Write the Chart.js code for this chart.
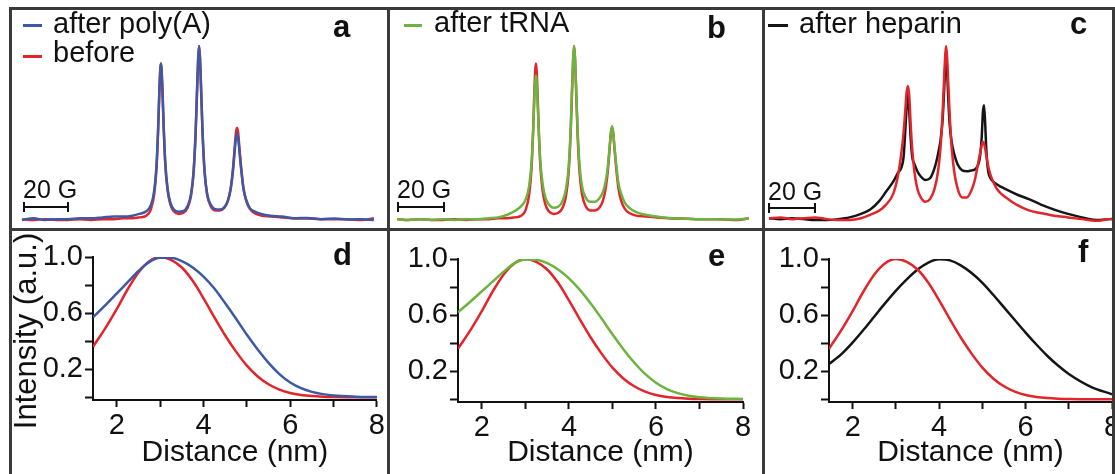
<!DOCTYPE html>
<html>
<head>
<meta charset="utf-8">
<script src="https://cdn.jsdelivr.net/npm/chart.js@4.4.0/dist/chart.umd.min.js"></script>
<style>
  html, body { margin: 0; padding: 0; background: #fff; overflow: hidden; }
  body { width: 1115px; height: 474px; position: relative; font-family: "Liberation Sans", Arial, sans-serif; color: #111; }
  .rule { position: absolute; background: #3a3a3a; z-index: 5; }
  canvas { position: absolute; z-index: 1; }
  .txt { position: absolute; line-height: 1; white-space: nowrap; z-index: 4; }
  .leg { font-size: 29px; }
  .tag { font-size: 31px; font-weight: bold; }
  .sb { font-size: 25px; }
  .key { position: absolute; height: 3px; z-index: 4; }
  .bar { position: absolute; height: 10px; border-left: 2px solid #111; border-right: 2px solid #111; box-sizing: border-box; z-index: 4; }
  .bar::after { content: ''; position: absolute; left: 0; right: 0; top: 4px; height: 2px; background: #111; }
  .ytitle { position: absolute; left: 25px; top: 331px; font-size: 31px; line-height: 1; white-space: nowrap;
            transform: translate(-50%, -50%) rotate(-90deg); z-index: 4; }
</style>
</head>
<body>

<!-- frame -->
<div class="rule" style="left:9px;top:7px;width:1106px;height:3px"></div>
<div class="rule" style="left:9px;top:228px;width:1106px;height:3px"></div>
<div class="rule" style="left:9px;top:7px;width:3px;height:467px"></div>
<div class="rule" style="left:387px;top:7px;width:3px;height:467px"></div>
<div class="rule" style="left:762px;top:7px;width:3px;height:467px"></div>
<div class="rule" style="left:1112px;top:7px;width:3px;height:467px"></div>

<canvas id="specA" width="375" height="218" style="left:12px;top:10px"></canvas>
<canvas id="specB" width="372" height="218" style="left:390px;top:10px"></canvas>
<canvas id="specC" width="347" height="218" style="left:765px;top:10px"></canvas>
<canvas id="distD" width="375" height="241" style="left:12px;top:233px"></canvas>
<canvas id="distE" width="372" height="241" style="left:390px;top:233px"></canvas>
<canvas id="distF" width="362" height="241" style="left:765px;top:233px"></canvas>

<!-- legends -->
<div class="key" style="left:23px;top:24px;width:19px;background:#3d59a6"></div>
<div class="txt leg" style="left:53px;top:9px">after poly(A)</div>
<div class="key" style="left:23px;top:55px;width:19px;background:#e3242b"></div>
<div class="txt leg" style="left:53px;top:38px">before</div>
<div class="key" style="left:404px;top:24px;width:18px;background:#6cb33f"></div>
<div class="txt leg" style="left:434px;top:8px">after tRNA</div>
<div class="key" style="left:768px;top:24px;width:20px;background:#151515"></div>
<div class="txt leg" style="left:799px;top:9px">after heparin</div>

<!-- panel letters -->
<div class="txt tag" style="left:333px;top:11px">a</div>
<div class="txt tag" style="left:707px;top:12px">b</div>
<div class="txt tag" style="left:1070px;top:8px">c</div>
<div class="txt tag" style="left:333px;top:239px">d</div>
<div class="txt tag" style="left:708px;top:240px">e</div>
<div class="txt tag" style="left:1078px;top:236px">f</div>

<!-- 20 G scale bars -->
<div class="txt sb" style="left:23px;top:177px">20 G</div>
<div class="bar" style="left:23px;top:202px;width:46px"></div>
<div class="txt sb" style="left:397px;top:177px">20 G</div>
<div class="bar" style="left:397px;top:202px;width:48px"></div>
<div class="txt sb" style="left:768px;top:179px">20 G</div>
<div class="bar" style="left:768px;top:203px;width:48px"></div>

<div class="ytitle">Intensity (a.u.)</div>

<script>
// EPR spectra, field offset in gauss (shared by all spectra)
const fieldG = [
  0, 5, 10, 15, 20, 25, 30, 35, 40, 44, 48,
  51, 54, 56, 57.5, 58.5, 59.2, 59.8, 60.4, 61.0, 61.6, 62.3,
  63.3, 64.5, 66, 68, 70, 72, 73.5, 74.6, 75.5, 76.2, 76.6,
  77, 77.4, 77.8, 78.5, 79.4, 80.5, 82, 84, 86, 88, 89.5,
  90.7, 91.7, 92.5, 93.0, 93.5, 94.0, 94.5, 95.3, 96.3, 97.5, 99,
  101, 104, 108, 113, 118, 124, 130, 136, 142, 148, 153
];

const specBefore = [
  0.005, 0.0, 0.005, 0.0, 0.0, 0.005, 0.0, 0.005, 0.005, 0.01, 0.01,
  0.015, 0.025, 0.06, 0.15, 0.30, 0.52, 0.77, 0.90, 0.77, 0.53, 0.32,
  0.17, 0.09, 0.05, 0.035, 0.04, 0.07, 0.14, 0.27, 0.50, 0.78, 0.93,
  1.0, 0.93, 0.78, 0.50, 0.27, 0.145, 0.08, 0.055, 0.055, 0.07, 0.11,
  0.18, 0.29, 0.42, 0.50, 0.53, 0.50, 0.42, 0.30, 0.18, 0.11, 0.065,
  0.04, 0.025, 0.02, 0.015, 0.01, 0.008, 0.005, 0.005, 0.003, 0.0, 0.01
];

const specPolyA = [
  0.0, 0.01, 0.0, 0.005, 0.005, 0.01, 0.01, 0.015, 0.02, 0.02, 0.025,
  0.035, 0.05, 0.085, 0.17, 0.32, 0.53, 0.77, 0.90, 0.77, 0.54, 0.33,
  0.18, 0.10, 0.06, 0.047, 0.05, 0.08, 0.15, 0.28, 0.51, 0.78, 0.93,
  1.0, 0.93, 0.78, 0.51, 0.28, 0.15, 0.09, 0.062, 0.06, 0.075, 0.11,
  0.175, 0.28, 0.40, 0.47, 0.50, 0.47, 0.40, 0.29, 0.18, 0.115, 0.07,
  0.05, 0.035, 0.025, 0.02, 0.01, 0.012, 0.005, 0.008, 0.003, 0.005, 0.0
];

const specTRNA = [
  0.005, 0.0, 0.005, 0.0, 0.005, 0.0, 0.005, 0.005, 0.01, 0.015, 0.03,
  0.05, 0.08, 0.12, 0.20, 0.33, 0.51, 0.72, 0.83, 0.72, 0.52, 0.34,
  0.21, 0.13, 0.09, 0.07, 0.075, 0.11, 0.18, 0.30, 0.52, 0.79, 0.93,
  1.0, 0.93, 0.79, 0.53, 0.31, 0.19, 0.13, 0.105, 0.105, 0.125, 0.16,
  0.22, 0.31, 0.43, 0.50, 0.54, 0.50, 0.43, 0.32, 0.21, 0.15, 0.10,
  0.07, 0.045, 0.03, 0.02, 0.012, 0.008, 0.005, 0.005, 0.003, 0.003, 0.01
];

const specBeforeC = [
  0.01, 0.015, 0.005, 0.01, 0.015, 0.005, 0.0, 0.0, 0.01, 0.03, 0.055,
  0.09, 0.15, 0.25, 0.38, 0.50, 0.62, 0.73, 0.77, 0.71, 0.55, 0.40,
  0.27, 0.18, 0.13, 0.105, 0.12, 0.18, 0.28, 0.42, 0.62, 0.83, 0.94,
  1.0, 0.94, 0.83, 0.62, 0.42, 0.28, 0.18, 0.13, 0.13, 0.17, 0.23,
  0.31, 0.38, 0.43, 0.45, 0.44, 0.41, 0.37, 0.31, 0.26, 0.22, 0.18,
  0.15, 0.12, 0.085, 0.055, 0.04, 0.025, 0.015, 0.005, -0.005, 0.005, 0.01
];

const specHeparin = [
  0.01, 0.005, 0.01, 0.005, 0.0, 0.0, 0.005, 0.015, 0.035, 0.06, 0.11,
  0.165, 0.22, 0.27, 0.30, 0.36, 0.50, 0.64, 0.74, 0.62, 0.47, 0.36,
  0.32, 0.28, 0.25, 0.23, 0.24, 0.30, 0.38, 0.46, 0.58, 0.76, 0.88,
  0.98, 0.88, 0.74, 0.56, 0.45, 0.38, 0.32, 0.285, 0.28, 0.285, 0.29,
  0.31, 0.36, 0.48, 0.62, 0.66, 0.55, 0.40, 0.28, 0.24, 0.22, 0.205,
  0.19, 0.17, 0.145, 0.12, 0.09, 0.06, 0.035, 0.015, 0.0, 0.005, 0.01
];

// distance distributions (nm)
const distNm = [1.45, 1.75, 2, 2.25, 2.5, 2.75, 3, 3.25, 3.5, 3.75, 4, 4.25, 4.5,
                4.75, 5, 5.25, 5.5, 5.75, 6, 6.25, 6.5, 6.75, 7, 7.5, 8];
const distBefore = [0.36, 0.50, 0.63, 0.77, 0.89, 0.97, 1.0, 0.98, 0.925, 0.83, 0.705, 0.57, 0.44,
                    0.325, 0.225, 0.148, 0.092, 0.054, 0.03, 0.016, 0.008, 0.004, 0.002, 0.0, 0.0];
const distPolyA = [0.57, 0.66, 0.74, 0.82, 0.90, 0.965, 0.995, 0.995, 0.97, 0.925, 0.86, 0.775, 0.67,
                   0.56, 0.445, 0.34, 0.245, 0.165, 0.105, 0.064, 0.038, 0.022, 0.012, 0.004, 0.001];
const distTRNA = [0.62, 0.70, 0.77, 0.84, 0.91, 0.97, 0.997, 0.995, 0.97, 0.925, 0.862, 0.78, 0.683,
                  0.575, 0.463, 0.357, 0.262, 0.18, 0.117, 0.072, 0.043, 0.025, 0.014, 0.005, 0.002];
const distHeparin = [0.25, 0.325, 0.405, 0.495, 0.59, 0.685, 0.775, 0.855, 0.925, 0.975, 0.998, 0.99, 0.955,
                     0.90, 0.83, 0.745, 0.655, 0.565, 0.475, 0.39, 0.31, 0.24, 0.18, 0.09, 0.035];

const distTicks = [2, 3, 4, 5, 6, 7, 8];
const distTickLabels = ["2", "", "4", "", "6", "", "8"];
const intensityTicks = [0, 0.2, 0.4, 0.6, 0.8, 1.0];
const intensityTickLabels = ["", "0.2", "", "0.6", "", "1.0"];

const RED = "#e3242b";
const BLUE = "#3d59a6";
const GREEN = "#6cb33f";
const BLACK = "#151515";
const FONT = "'Liberation Sans', Arial, sans-serif";

Chart.defaults.font.family = FONT;
Chart.defaults.color = "#111";

const PX_PER_G = 2.3;

function line(label, xs, ys, color) {
    return {
        label: label,
        data: xs.map((x, i) => ({ x: x, y: ys[i] })),
        borderColor: color,
        backgroundColor: color,
        borderWidth: 2.5,
        pointRadius: 0,
        fill: false,
        cubicInterpolationMode: "monotone",
    };
}

function spectrumChart(id, zeroOffset, datasets) {
    const canvas = document.getElementById(id);
    new Chart(canvas, {
        type: "line",
        data: { datasets: datasets },
        options: {
            responsive: false,
            animation: false,
            layout: { padding: 0 },
            plugins: { legend: { display: false }, tooltip: { enabled: false } },
            scales: {
                x: {
                    type: "linear",
                    display: false,
                    min: -zeroOffset / PX_PER_G,
                    max: (canvas.width - zeroOffset) / PX_PER_G,
                },
                y: { display: false, min: -0.046, max: 1.207 },
            },
        },
    });
}

function distChart(id, box, datasets) {
    new Chart(document.getElementById(id), {
        type: "line",
        data: { datasets: datasets },
        options: {
            responsive: false,
            animation: false,
            layout: { padding: { top: box.top, right: box.right, left: 0, bottom: 0 } },
            plugins: { legend: { display: false }, tooltip: { enabled: false } },
            scales: {
                x: {
                    type: "linear",
                    min: 1.45,
                    max: 8,
                    afterBuildTicks: (axis) => { axis.ticks = distTicks.map((v) => ({ value: v })); },
                    afterFit: (axis) => { axis.height = box.xAxis; },
                    ticks: {
                        callback: (v, i) => distTickLabels[i],
                        autoSkip: false,
                        maxRotation: 0,
                        padding: 2,
                        color: "#111",
                        font: { size: 29 },
                    },
                    grid: { drawOnChartArea: false, tickLength: 7, tickWidth: 2, tickColor: "#111" },
                    border: { color: "#111", width: 2 },
                    title: {
                        display: true,
                        text: "Distance (nm)",
                        color: "#111",
                        font: { size: 30 },
                        padding: { top: 0, bottom: 3 },
                    },
                },
                y: {
                    min: -0.02,
                    max: 1.0,
                    afterBuildTicks: (axis) => { axis.ticks = intensityTicks.map((v) => ({ value: v })); },
                    afterFit: (axis) => { axis.width = box.yAxis; },
                    ticks: {
                        callback: (v, i) => intensityTickLabels[i],
                        autoSkip: false,
                        padding: 2,
                        color: "#111",
                        font: { size: 29 },
                    },
                    grid: { drawOnChartArea: false, tickLength: 8, tickWidth: 2, tickColor: "#111" },
                    border: { color: "#111", width: 2 },
                },
            },
        },
    });
}

spectrumChart("specA", 10, [
    line("after poly(A)", fieldG, specPolyA, BLUE),
    line("before", fieldG, specBefore, RED),
]);
spectrumChart("specB", 7, [
    line("after tRNA", fieldG, specTRNA, GREEN),
    line("before", fieldG, specBefore, RED),
]);
spectrumChart("specC", 4, [
    line("before", fieldG, specBeforeC, RED),
    line("after heparin", fieldG, specHeparin, BLACK),
]);

distChart("distD", { top: 24, right: 10, yAxis: 81, xAxis: 74 }, [
    line("after poly(A)", distNm, distPolyA, BLUE),
    line("before", distNm, distBefore, RED),
]);
distChart("distE", { top: 26, right: 19, yAxis: 68, xAxis: 72 }, [
    line("after tRNA", distNm, distTRNA, GREEN),
    line("before", distNm, distBefore, RED),
]);
distChart("distF", { top: 26, right: 15, yAxis: 64, xAxis: 72 }, [
    line("before", distNm, distBefore, RED),
    line("after heparin", distNm, distHeparin, BLACK),
]);
</script>
</body>
</html>
